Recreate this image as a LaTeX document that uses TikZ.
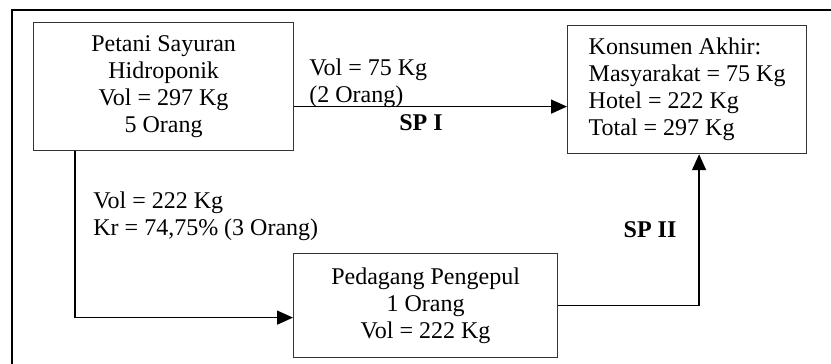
\documentclass[tikz,border=0pt]{standalone}
\usepackage{fontspec}
\setmainfont{Liberation Serif}
\usetikzlibrary{arrows.meta, positioning}

\tikzset{
	box/.style={draw=black!80, line width=0.6pt, rectangle, anchor=north west, inner sep=2pt},
	flow/.style={line width=0.7pt, -{Triangle[length=8pt, width=7pt]}},
	lbl/.style={align=left, anchor=west, inner sep=0pt}
}

\begin{document}
\begin{tikzpicture}[x=0.5pt, y=-0.5pt, font=\fontsize{12pt}{13.5pt}\selectfont]
		\useasboundingbox (0, 0) rectangle (831, 364);
		% frame (only top and left are seen)
		\draw[line width=1pt] (831, 10) -- (12, 10) -- (12, 364);
		\node[box, minimum width=130pt, minimum height=64pt, align=center] (petani) at (33, 22) {Petani Sayuran\\Hidroponik\\Vol = 297 Kg\\5 Orang};
		\node[box, minimum width=119.5pt, minimum height=64pt, align=left] (konsumen) at (567, 25) {Konsumen Akhir:\\Masyarakat = 75 Kg\\Hotel = 222 Kg\\Total = 297 Kg};
		\node[box, minimum width=132pt, minimum height=52pt, align=center] (pedagang) at (293, 253) {Pedagang Pengepul\\1 Orang\\Vol = 222 Kg};
		% saluran I
		\draw[flow] ([yshift=-10pt]petani.east) -- ([yshift=-10pt]petani.east -| konsumen.west);
		\node[lbl] (sp1_vol) at (309, 83) {Vol = 75 Kg\\(2 Orang)};
		\node[font=\fontsize{12pt}{13.5pt}\selectfont\bfseries] (sp1) at (421, 123) {SP I};
		% saluran II
		\draw[flow] ([xshift=21pt]petani.south west) |- ([yshift=-6pt]pedagang.west);
		\node[lbl] (sp2_vol) at (93, 216) {Vol = 222 Kg\\Kr = 74,75\% (3 Orang)};
		\draw[flow] (pedagang.east) -| ([xshift=6pt]konsumen.south);
		\node[font=\fontsize{12pt}{13.5pt}\selectfont\bfseries] (sp2) at (650, 230) {SP II};
	\end{tikzpicture}
\end{document}
